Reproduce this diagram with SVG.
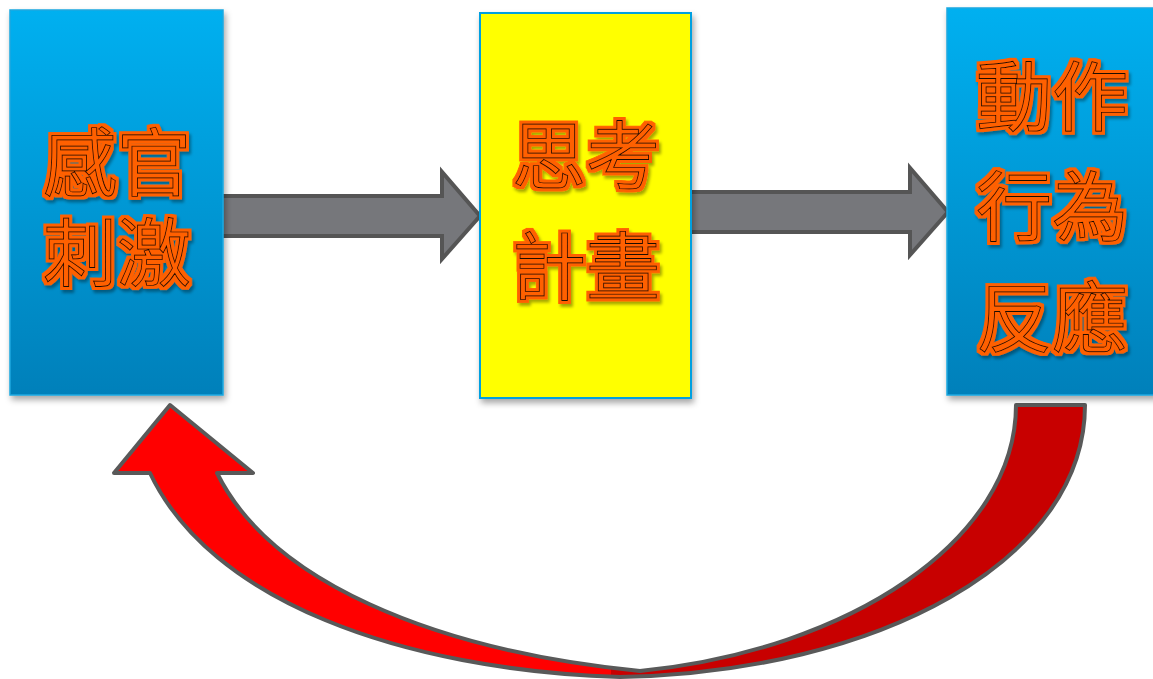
<svg xmlns="http://www.w3.org/2000/svg" width="1153" height="679" viewBox="0 0 1153 679">
<defs>
<linearGradient id="blue" x1="0" y1="0" x2="0" y2="1">
<stop offset="0" stop-color="#00B0F0"/>
<stop offset="1" stop-color="#0080BA"/>
</linearGradient>
<linearGradient id="curve" gradientUnits="userSpaceOnUse" x1="0" y1="0" x2="1153" y2="0">
<stop offset="0.53" stop-color="#FF0000"/>
<stop offset="0.53" stop-color="#C80000"/>
</linearGradient>
<filter id="shadow" x="-10%" y="-10%" width="130%" height="130%">
<feDropShadow dx="2" dy="4" stdDeviation="3" flood-color="#000" flood-opacity="0.35"/>
</filter>
<filter id="txt" x="-20%" y="-20%" width="140%" height="140%">
<feMorphology in="SourceAlpha" operator="dilate" radius="2.6" result="d"/>
<feFlood flood-color="#FF6000"/>
<feComposite in2="d" operator="in" result="halo"/>
<feGaussianBlur in="d" stdDeviation="1.5" result="b"/>
<feOffset in="b" dx="2" dy="3" result="bo"/>
<feFlood flood-color="#000" flood-opacity="0.35"/>
<feComposite in2="bo" operator="in" result="sh"/>
<feMerge><feMergeNode in="sh"/><feMergeNode in="halo"/><feMergeNode in="SourceGraphic"/></feMerge>
</filter>
</defs>
<style>
.box{filter:url(#shadow);}
.blue{fill:url(#blue);stroke:#1AA8E0;stroke-width:1.5;}
.yellow{fill:#FFFF00;stroke:#00A0E0;stroke-width:2;}
.t{font-family:"Noto Sans CJK TC","Noto Sans CJK SC",sans-serif;font-weight:400;fill:#FF6000;stroke:#1a0800;stroke-width:0.9;text-anchor:middle;filter:url(#txt);}
.arr{fill:#76777B;stroke:#555555;stroke-width:4;stroke-linejoin:miter;}
.loop{fill:url(#curve);stroke:#595959;stroke-width:4;stroke-linejoin:round;}
</style>
<rect width="1153" height="679" fill="#FFFFFF"/>
<g id="connectors">
<path class="arr" d="M220,196 H442 V172 L480,216 L442,259 V236 H220 Z"/>
<path class="arr" d="M690,192 H910 V168 L948,212 L910,255 V232 H690 Z"/>
<path class="loop" d="M1085,405 C1085,560 880,672 620,677 C400,670 210,600 150,473 L114,473 L170,405 L253,473 L217,473 C270,580 430,650 640,671 C850,650 1016,540 1016,405 Z"/>
</g>
<g id="node-sensory">
<rect class="box blue" x="10" y="10" width="213" height="385"/>
<text class="t" font-size="74"><tspan x="117" y="190">感官</tspan><tspan x="117" y="280">刺激</tspan></text>
</g>
<g id="node-thinking">
<rect class="box yellow" x="480" y="13" width="211" height="385"/>
<text class="t" font-size="74"><tspan x="586" y="183">思考</tspan><tspan x="586" y="294">計畫</tspan></text>
</g>
<g id="node-action">
<rect class="box blue" x="947" y="8" width="210" height="387"/>
<text class="t" font-size="76"><tspan x="1052" y="125">動作</tspan><tspan x="1052" y="235">行為</tspan><tspan x="1052" y="346">反應</tspan></text>
</g>
</svg>
